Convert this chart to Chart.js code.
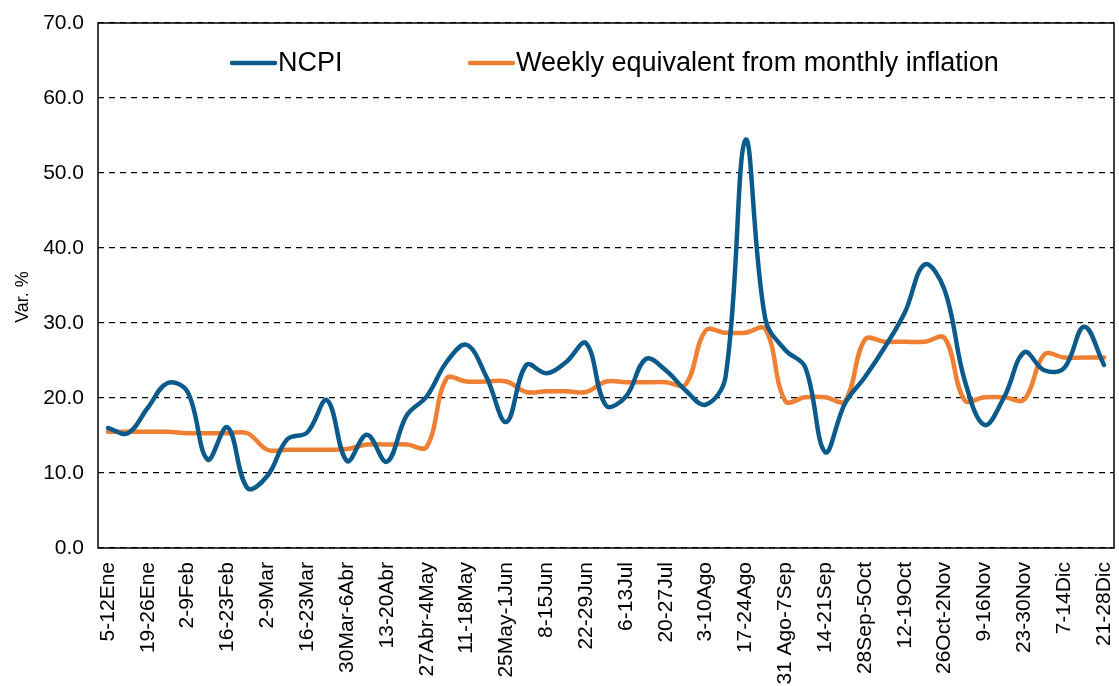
<!DOCTYPE html>
<html>
<head>
<meta charset="utf-8">
<script src="https://cdn.jsdelivr.net/npm/chart.js@4/dist/chart.umd.min.js"></script>
<style>
html,body{margin:0;padding:0;background:#fff;}
#wrap{width:1119px;height:686px;position:relative;}
</style>
</head>
<body>
<div id="wrap"><canvas id="c" width="1119" height="686"></canvas></div>
<script>
const weeks = ["5-12Ene","12-19Ene","19-26Ene","26Ene-2Feb","2-9Feb","9-16Feb","16-23Feb","23Feb-2Mar","2-9Mar","9-16Mar","16-23Mar","23-30Mar","30Mar-6Abr","6-13Abr","13-20Abr","20-27Abr","27Abr-4May","4-11May","11-18May","18-25May","25May-1Jun","1-8Jun","8-15Jun","15-22Jun","22-29Jun","29Jun-6Jul","6-13Jul","13-20Jul","20-27Jul","27Jul-3Ago","3-10Ago","10-17Ago","17-24Ago","24-31Ago","31 Ago-7Sep","7-14Sep","14-21Sep","21-28Sep","28Sep-5Oct","5-12Oct","12-19Oct","19-26Oct","26Oct-2Nov","2-9Nov","9-16Nov","16-23Nov","23-30Nov","30Nov-7Dic","7-14Dic","14-21Dic","21-28Dic"];

const ncpi = [16.0,15.3,18.7,22.0,20.8,11.8,16.1,8.0,9.6,14.5,15.4,19.7,11.6,15.1,11.5,17.7,20.2,24.8,27.1,22.8,16.8,24.4,23.3,24.8,27.3,19.0,20.2,25.2,23.7,21.0,19.1,22.8,54.4,30.5,26.4,24.1,12.8,19.3,22.8,26.8,31.4,37.8,34.4,22.4,16.4,20.2,26.1,23.7,24.0,29.5,24.4];

const weeklyEq = [15.5,15.5,15.5,15.5,15.3,15.3,15.3,15.3,13.1,13.1,13.1,13.1,13.2,13.8,13.8,13.8,13.5,22.6,22.2,22.2,22.2,20.8,20.9,20.9,20.8,22.2,22.1,22.1,22.1,21.8,29.0,28.7,28.7,29.2,19.6,20.1,20.1,19.6,27.8,27.5,27.5,27.5,28.0,19.7,20.1,20.1,19.8,25.8,25.4,25.4,25.4];

const seriesNames = ["NCPI","Weekly equivalent from monthly inflation"];
const yTitle = "Var. %";
const yMin = 0, yMax = 70, yStep = 10;

const BLUE = '#0B5A8C';
const ORANGE = '#EE7F33';
const FONT = '"Liberation Sans", Arial, sans-serif';

const frameAndLegend = {
  id: 'frameAndLegend',
  afterDraw(chart) {
    const {ctx, chartArea: a} = chart;
    ctx.save();
    ctx.strokeStyle = '#000';
    ctx.lineWidth = 1.5;
    ctx.setLineDash([]);
    ctx.strokeRect(a.left, a.top, a.right - a.left, a.bottom - a.top);
    // y axis title
    ctx.save();
    ctx.translate(23, 297);
    ctx.rotate(-Math.PI / 2);
    ctx.font = '18px ' + FONT;
    ctx.fillStyle = '#000';
    ctx.textAlign = 'center';
    ctx.textBaseline = 'middle';
    ctx.fillText(yTitle, 0, 0);
    ctx.restore();
    // legend inside plot
    const y = 63;
    const items = [
      {x: 232, color: BLUE, text: chart.data.datasets[0].label},
      {x: 470, color: ORANGE, text: chart.data.datasets[1].label}
    ];
    ctx.font = '27px ' + FONT;
    ctx.textBaseline = 'middle';
    ctx.textAlign = 'left';
    items.forEach(it => {
      ctx.strokeStyle = it.color;
      ctx.lineWidth = 4.5;
      ctx.lineCap = 'round';
      ctx.beginPath();
      ctx.moveTo(it.x, y);
      ctx.lineTo(it.x + 43, y);
      ctx.stroke();
      ctx.fillStyle = '#000';
      ctx.fillText(it.text, it.x + 46, y + 1);
    });
    ctx.restore();
  }
};

new Chart(document.getElementById('c'), {
  type: 'line',
  data: {
    labels: weeks,
    datasets: [
      {label: seriesNames[0], data: ncpi, borderColor: BLUE, backgroundColor: BLUE, borderWidth: 4.5, pointRadius: 0, tension: 0.38, fill: false, borderCapStyle: 'round'},
      {label: seriesNames[1], data: weeklyEq, borderColor: ORANGE, backgroundColor: ORANGE, borderWidth: 4.5, pointRadius: 0, tension: 0.38, fill: false, borderCapStyle: 'round'}
    ]
  },
  options: {
    responsive: false,
    animation: false,
    devicePixelRatio: 1,
    layout: {padding: {left: 0, right: 5, top: 23, bottom: 0}},
    plugins: {legend: {display: false}, tooltip: {enabled: false}, title: {display: false}},
    scales: {
      x: {
        offset: true,
        grid: {display: false, drawTicks: false},
        border: {display: false},
        ticks: {
          autoSkip: false, maxRotation: 90, minRotation: 90, padding: 14,
          color: '#000', font: {family: FONT, size: 21},
          callback: function(v, i) { return i % 2 === 0 ? this.getLabelForValue(v) : ''; }
        },
        afterFit(s) { s.height = 138; s.paddingLeft = 0; s.paddingRight = 0; }
      },
      y: {
        min: yMin, max: yMax,
        grid: {color: '#000', lineWidth: 1.3, drawTicks: false},
        border: {display: false, dash: [6, 5]},
        ticks: {stepSize: yStep, padding: 14, color: '#000', font: {family: FONT, size: 21},
          callback: v => Number(v).toFixed(1)},
        title: {display: false},
        afterFit(s) { s.width = 98; s.paddingTop = 0; s.paddingBottom = 0; }
      }
    }
  },
  plugins: [frameAndLegend]
});
</script>
</body>
</html>
